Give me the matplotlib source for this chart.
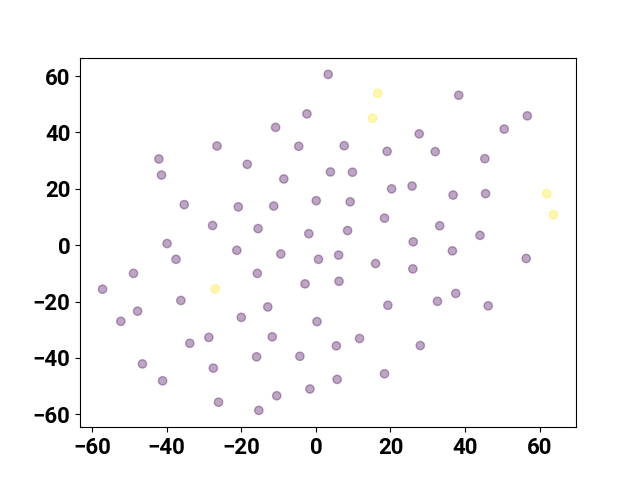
import matplotlib
matplotlib.use("Agg")
import matplotlib.pyplot as plt

plt.rcParams['font.family'] = ['Roboto', 'DejaVu Sans']
plt.rcParams['font.weight'] = 'bold'
plt.rcParams['font.size'] = 16

# points
x = [3.3, -2.4, -10.8, -26.5, -4.6, -42.1, -18.4, 3.9, -41.4, -8.6,
     -35.3, -20.8, -11.3, 0.1, -27.7, -15.5, -1.9, -39.9,
     16.6, 38.3, 15.2, 56.7, 27.7, 50.5, 7.6, 19.1, 32.0, 45.3,
     9.8, 20.3, 25.8, 36.8, 45.5, 61.9, 9.2, 18.4, 33.2, 63.7, 8.5, 26.1, 44.0,
     -21.2, -9.4, 0.7, -37.5, -48.9, -15.7, -2.9, -57.2, -27.0, -36.2,
     -47.8, -12.9, -20.0, 0.3, -52.3, -28.7, -11.7, -33.8, -15.9, -4.3,
     -46.5, -27.5, -41.1, -1.6, -10.5, -26.1, -15.3,
     6.1, 36.6, 16.0, 26.0, 56.4, 6.2, 19.3, 32.6, 37.5, 46.2,
     5.5, 11.7, 28.0, 5.7, 18.4]
y = [60.6, 46.6, 41.8, 35.2, 35.1, 30.6, 28.7, 26.0, 24.9, 23.5,
     14.4, 13.6, 13.9, 15.8, 7.0, 5.9, 4.1, 0.6,
     53.9, 53.2, 45.1, 45.9, 39.5, 41.2, 35.3, 33.3, 33.2, 30.7,
     25.9, 20.0, 21.0, 17.8, 18.3, 18.3, 15.4, 9.6, 6.9, 10.8, 5.2, 1.2, 3.5,
     -1.8, -3.1, -5.0, -5.0, -10.0, -10.0, -13.7, -15.6, -15.5, -19.6,
     -23.4, -21.9, -25.6, -27.1, -27.0, -32.7, -32.5, -34.8, -39.6, -39.4,
     -42.1, -43.6, -48.1, -51.0, -53.4, -55.7, -58.6,
     -3.5, -2.0, -6.5, -8.4, -4.7, -12.8, -21.3, -19.9, -17.1, -21.5,
     -35.7, -33.1, -35.6, -47.6, -45.6]
# 1 = yellow points
labels = [0, 0, 0, 0, 0, 0, 0, 0, 0, 0,
          0, 0, 0, 0, 0, 0, 0, 0,
          1, 0, 1, 0, 0, 0, 0, 0, 0, 0,
          0, 0, 0, 0, 0, 1, 0, 0, 0, 1, 0, 0, 0,
          0, 0, 0, 0, 0, 0, 0, 0, 1, 0,
          0, 0, 0, 0, 0, 0, 0, 0, 0, 0,
          0, 0, 0, 0, 0, 0, 0,
          0, 0, 0, 0, 0, 0, 0, 0, 0, 0,
          0, 0, 0, 0, 0]

fig = plt.figure(figsize=(6.4, 4.8), dpi=100)
ax = fig.add_subplot(111)
ax.scatter(x, y, c=labels, cmap='viridis', alpha=0.35)
ax.set_yticks([-60, -40, -20, 0, 20, 40, 60])
plt.savefig('out.png')
